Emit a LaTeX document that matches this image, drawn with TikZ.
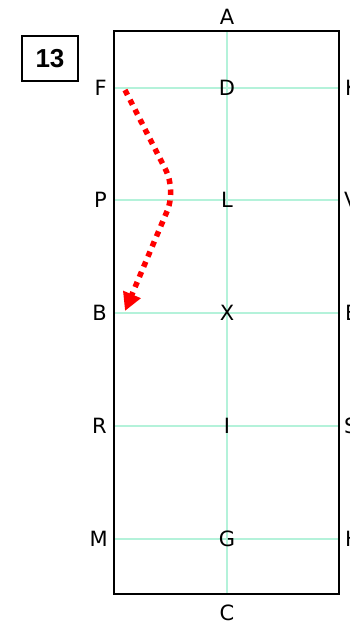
\documentclass[tikz,border=0pt]{standalone}
\usepackage{fontspec}
\setmainfont{DejaVu Sans}
\newfontfamily\numfont{Liberation Sans}
\usetikzlibrary{arrows.meta}
\definecolor{gridmint}{RGB}{180,242,218}
\definecolor{arrowred}{RGB}{255,0,0}
\tikzset{
  lbl/.style={inner sep=0pt, font=\fontsize{21}{25}\selectfont},
  gridline/.style={draw=gridmint, line width=1.3pt},
  arena/.style={draw=black, line width=2.8pt},
  numbox/.style={draw=black, line width=1.7pt, minimum width=56pt, minimum height=45pt, inner sep=0pt, font=\numfont\bfseries\fontsize{26}{30}\selectfont},
  path arrow/.style={draw=arrowred, line width=5.5pt, dash pattern=on 5.5pt off 5.5pt, rounded corners=22pt, -{Triangle[length=18pt,width=18pt]}}
}
\begin{document}
\begin{tikzpicture}[x=1pt,y=-1pt]
\useasboundingbox (0,0) rectangle (349,627);
% grid lines
\foreach \yy in {88,200,313,426,539} \draw[gridline] (114,\yy) -- (339,\yy);
\draw[gridline] (227,31) -- (227,594);
% arena
\draw[arena] (114,31) rectangle (339,594);
% labels
\node[lbl] (A) at (227,17) {A};
\node[lbl] (C) at (227,613) {C};
\node[lbl] (D) at (227,88) {D};
\node[lbl] (L) at (227,200) {L};
\node[lbl] (X) at (227,313) {X};
\node[lbl] (I) at (227,426) {I};
\node[lbl] (G) at (227,539) {G};
\node[lbl, anchor=east] (F) at (107,88) {F};
\node[lbl, anchor=east] (P) at (107,200) {P};
\node[lbl, anchor=east] (B) at (107,313) {B};
\node[lbl, anchor=east] (R) at (107,426) {R};
\node[lbl, anchor=east] (M) at (108,539) {M};
\node[lbl, anchor=west] (K) at (345,88) {K};
\node[lbl, anchor=west] (V) at (344,200) {V};
\node[lbl, anchor=west] (E) at (345,313) {E};
\node[lbl, anchor=west] (S) at (344,426) {S};
\node[lbl, anchor=west] (H) at (345,539) {H};
% number box
\node[numbox] (num) at (50,58.5) {13};
% arrow
\coordinate (start) at (125,90);
\coordinate (bend) at (176,190);
\coordinate (stop) at (125,311);
\draw[path arrow] (start) -- (bend) -- (stop);
\end{tikzpicture}
\end{document}
